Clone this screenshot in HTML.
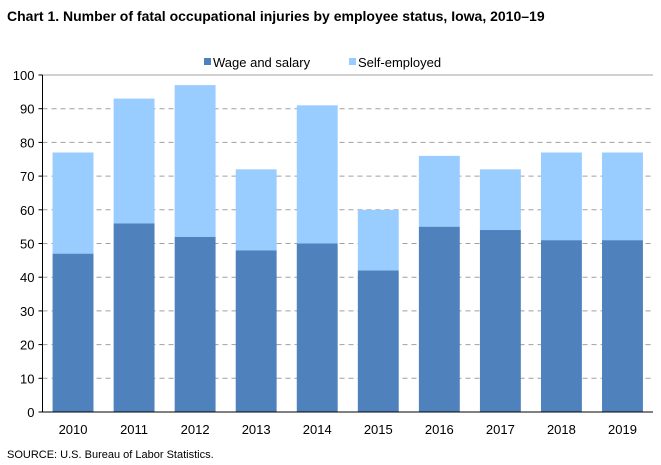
<!DOCTYPE html>
<html><head><meta charset="utf-8"><style>
body{margin:0;background:#fff;font-family:"Liberation Sans",Arial,sans-serif;}
svg{display:block}
</style></head><body>
<svg width="661" height="465" xmlns="http://www.w3.org/2000/svg">
<text x="7" y="21" font-size="14" font-weight="bold" fill="#000">Chart 1. Number of fatal occupational injuries by employee status, Iowa, 2010–19</text>
<g>
<rect x="204" y="58" width="7" height="7" fill="#4f81bd"/>
<text x="213" y="67" font-size="13">Wage and salary</text>
<rect x="349" y="58" width="7" height="7" fill="#99ccff"/>
<text x="358" y="67" font-size="13">Self-employed</text>
</g>
<g id="grid"></g><g id="bars"></g><g id="axes"></g>
<text x="7" y="458" font-size="11">SOURCE: U.S. Bureau of Labor Statistics.</text>
</svg>
<script>
const categories=["2010","2011","2012","2013","2014","2015","2016","2017","2018","2019"];
const wage=[47,56,52,48,50,42,55,54,51,51];
const selfEmp=[30,37,45,24,41,18,21,18,26,26];
const yTicks=[0,10,20,30,40,50,60,70,80,90,100];
const NS="http://www.w3.org/2000/svg";
const L=42.5,R=653,T=75,B=412,yMax=100;
const y=v=>B-(v/yMax)*(B-T);
const bw=(R-L)/categories.length;
const x=i=>L+i*bw;
function mk(tag,attrs,parent){const e=document.createElementNS(NS,tag);for(const k in attrs)e.setAttribute(k,attrs[k]);document.getElementById(parent).appendChild(e);return e;}
yTicks.forEach(t=>{
 if(t>0){const g=mk('line',{x1:L,x2:R,y1:y(t),y2:y(t),stroke:'#a0a0a0','stroke-dasharray':t===100?'none':'5,4'},'grid');
 
 }
 const lb=mk('text',{x:L-8,y:y(t)+5,'text-anchor':'end','font-size':'13'},'axes');lb.textContent=t;
 
 
 const tk=mk('line',{x1:L-4,x2:L,y1:y(t),y2:y(t),stroke:'#000'},'axes');
 
 
});
categories.forEach((c,i)=>{
 const bx=x(i)+bw*0.165, w=bw*0.67;
 const b1=mk('rect',{x:bx,y:y(wage[i]),width:w,height:B-y(wage[i]),fill:'#4f81bd'},'bars');
 
 
 const b2=mk('rect',{x:bx,y:y(wage[i]+selfEmp[i]),width:w,height:y(wage[i])-y(wage[i]+selfEmp[i]),fill:'#99ccff'},'bars');
 
 
 const lb=mk('text',{x:x(i)+bw/2,y:B+22,'text-anchor':'middle','font-size':'13'},'axes');lb.textContent=c;
 
 
});
const ya=mk('line',{x1:L,x2:L,y1:T,y2:B,stroke:'#000'},'axes');


const xa=mk('line',{x1:L-4,x2:R,y1:B,y2:B,stroke:'#000'},'axes');


</script>
</body></html>
